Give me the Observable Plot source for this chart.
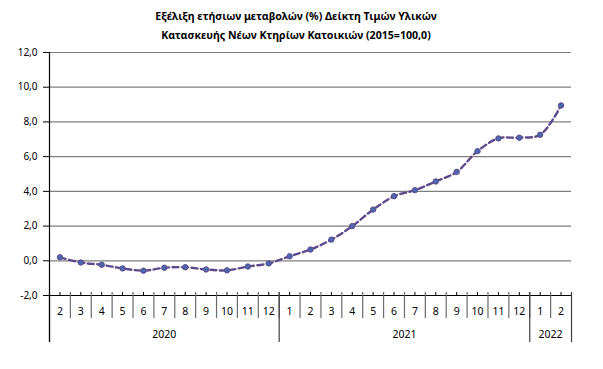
<!DOCTYPE html>
<html><head><meta charset="utf-8">
<script src="https://cdn.jsdelivr.net/npm/d3@7"></script>
<script src="https://cdn.jsdelivr.net/npm/@observablehq/plot@0.6"></script>
<style>
body{margin:0;background:#fff;width:603px;height:369px;overflow:hidden;position:relative;font-family:"Noto Sans",sans-serif}
#title{position:absolute;left:0;top:7px;width:592px;text-align:center;font-weight:bold;font-size:10.6px;line-height:19px;color:#000}
#chart{position:absolute;left:0;top:0}
</style></head><body>
<div id="chart"></div>
<div id="title">Εξέλιξη ετήσιων μεταβολών (%) Δείκτη Τιμών Υλικών<br>Κατασκευής Νέων Κτηρίων Κατοικιών (2015=100,0)</div>
<script>
const months = ["2","3","4","5","6","7","8","9","10","11","12","1","2","3","4","5","6","7","8","9","10","11","12","1","2"];
const values = [0.20,-0.10,-0.23,-0.44,-0.57,-0.40,-0.37,-0.50,-0.55,-0.33,-0.15,0.26,0.65,1.22,2.00,2.95,3.72,4.07,4.57,5.12,6.32,7.05,7.09,7.26,8.95];
const yearLabels = ["2020","2021","2022"];
const yearCounts = [11,12,2];
const yTicks = [-2,0,2,4,6,8,10,12];

const yearStarts = yearCounts.map((n,i)=>d3.sum(yearCounts.slice(0,i)));
const yearBounds = [0, ...yearCounts.map((n,i)=>yearStarts[i]+n)];
const n = months.length;
const centers = months.map((m,i)=>i+0.5);
const fmt = d => d.toFixed(1).replace(".", ",");
const purple = "#5E4B8C";

const chart = Plot.plot({
  width: 603, height: 369,
  marginTop: 52, marginBottom: 74, marginLeft: 49, marginRight: 32,
  style: {fontFamily: "'Noto Sans', sans-serif", fontSize: "10px", color: "#000", background: "transparent"},
  x: {domain: [0, n], axis: null},
  y: {domain: [-2, 12], axis: null},
  marks: [
    Plot.ruleY(yTicks.filter(d => d > -2), {stroke: "#7f7f7f", strokeWidth: 1.2}),
    Plot.axisY(yTicks, {tickFormat: fmt, tickSize: 6, tickPadding: 6, stroke: "#000", fontSize: 10}),
    Plot.ruleY([-2], {stroke: "#000", strokeWidth: 1.2}),
    Plot.ruleX(d3.range(1, n), {y1: -2, y2: -2, insetTop: -3, insetBottom: -23, stroke: "#6b6b6b", strokeWidth: 1.2}),
    Plot.ruleX(centers, {y1: -2, y2: -2, insetTop: -3, insetBottom: 0, stroke: "#000"}),
    Plot.ruleX(yearBounds, {y1: -2, y2: -2, insetTop: -3, insetBottom: -47, stroke: "#404040", strokeWidth: 1.2}),
    Plot.ruleX([0], {y1: 12, y2: -2, insetBottom: -47, stroke: "#000", strokeWidth: 1.2}),
    Plot.text(months, {x: (d, i) => i + 0.5, y: () => -2, dy: 16, text: d => d, fontSize: 10.5, fill: "#000"}),
    Plot.text(yearLabels, {x: (d, i) => yearStarts[i] + yearCounts[i] / 2, y: () => -2, dy: 39, text: d => d, fontSize: 10.5, fill: "#000"}),
    Plot.line(values, {x: (d, i) => i + 0.5, y: d => d, stroke: purple, strokeWidth: 2.4, strokeDasharray: "6,3.5", curve: "catmull-rom"}),
    Plot.dot(values, {x: (d, i) => i + 0.5, y: d => d, r: 2.7, fill: "#4E66AE", stroke: purple, strokeWidth: 1})
  ]
});
document.getElementById("chart").appendChild(chart);
</script>
</body></html>
